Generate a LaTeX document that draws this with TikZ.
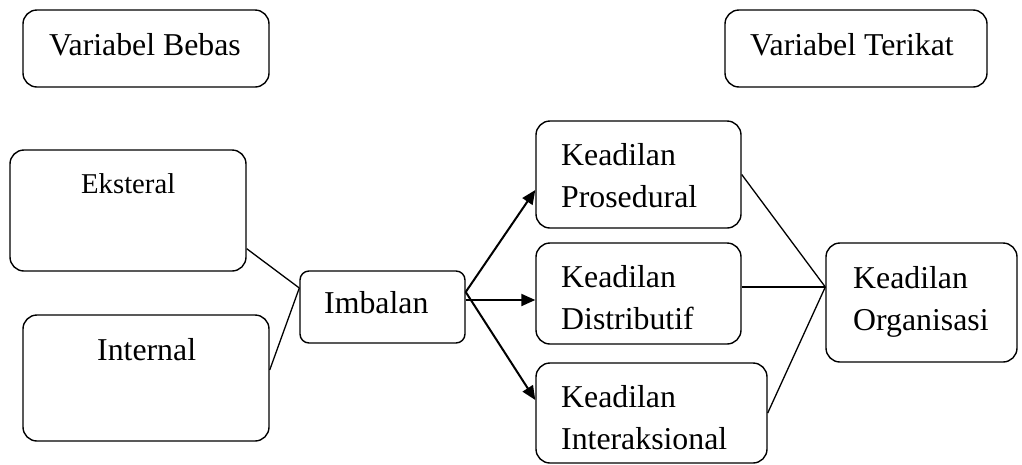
\documentclass[tikz,border=0pt]{standalone}
\usepackage{fontspec}
\setmainfont{Liberation Serif}
\usetikzlibrary{arrows.meta}
\tikzset{
  box/.style={draw, line width=1.4pt, rounded corners=14pt, inner sep=0pt, fill=none},
  smallbox/.style={box, rounded corners=9pt},
  txt/.style={inner sep=0pt, anchor=base west, align=left, font=\fontsize{31.8}{42}\selectfont},
  link/.style={line width=1.3pt},
  arr/.style={line width=2pt, -{Triangle[length=14pt,width=12pt]}}
}
\begin{document}
\begin{tikzpicture}[x=1pt,y=-1pt]
\useasboundingbox (0,0) rectangle (1022,464);
% boxes
\node[box, minimum width=246pt, minimum height=77pt] (vb) at (146,48.5) {};
\node[box, minimum width=262pt, minimum height=77pt] (vt) at (856,48.5) {};
\node[box, minimum width=236pt, minimum height=121pt] (ek) at (128,210.5) {};
\node[box, minimum width=246pt, minimum height=126pt] (in) at (146,378) {};
\node[smallbox, minimum width=165pt, minimum height=72pt] (im) at (382.5,307) {};
\node[box, minimum width=205pt, minimum height=107pt] (kp) at (638.5,174.5) {};
\node[box, minimum width=205pt, minimum height=101pt] (kd) at (638.5,293.5) {};
\node[box, minimum width=231pt, minimum height=100pt] (ki) at (651.5,413) {};
\node[box, minimum width=191pt, minimum height=119pt] (ko) at (921.5,302.5) {};
% texts (multi-line nodes: base anchor is the last line)
\node[txt] (tvb) at (49,55) {Variabel Bebas};
\node[txt] (tvt) at (750,55) {Variabel Terikat};
\node[txt, font=\fontsize{28.7}{36}\selectfont] (tek) at (81,193) {Eksteral};
\node[txt] (tin) at (97,360) {Internal};
\node[txt] (tim) at (324,313) {Imbalan};
\node[txt] (tkp) at (561,207) {Keadilan\\Prosedural};
\node[txt] (tkd) at (561,329) {Keadilan\\Distributif};
\node[txt] (tki) at (561,449) {Keadilan\\Interaksional};
\node[txt] (tko) at (853,330) {Keadilan\\Organisasi};
% connectors
\draw[link] ([yshift=23pt]ek.south east) -- ([yshift=19pt]im.west);
\draw[link] ([yshift=8pt]in.east) -- ([yshift=19pt]im.west);
\draw[arr] ([yshift=15pt]im.east) -- ([yshift=-15.5pt]kp.west);
\draw[arr] ([yshift=7pt]im.east) -- ([yshift=-6.5pt]kd.west);
\draw[arr] ([yshift=15pt]im.east) -- ([yshift=13pt]ki.west);
\draw[link] (kp.east) -- ([yshift=15.5pt]ko.west);
\draw[link] ([yshift=6.5pt]kd.east) -- ([yshift=15.5pt]ko.west);
\draw[link] (ki.east) -- ([yshift=15.5pt]ko.west);
\end{tikzpicture}
\end{document}
